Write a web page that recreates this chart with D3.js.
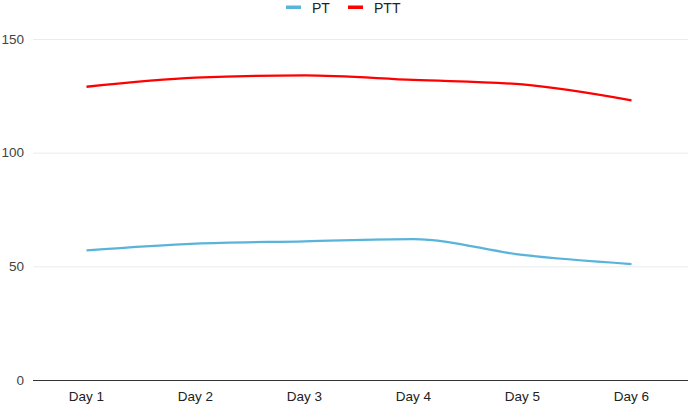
<!DOCTYPE html>
<html>
<head>
<meta charset="utf-8">
<script src="https://cdn.jsdelivr.net/npm/d3@7"></script>
<style>
  body { margin: 0; background: #fff; }
  text { font-family: "Liberation Sans", Arial, sans-serif; }
</style>
</head>
<body>
<div id="chart"></div>
<script>
// Data ------------------------------------------------------------------------
const days = ["Day 1", "Day 2", "Day 3", "Day 4", "Day 5", "Day 6"];
const ptValues = [57, 60, 61, 62, 55, 51];
const pttValues = [129, 133, 134, 132, 130, 123];
const yTicks = [0, 50, 100, 150];

const series = [
  { name: "PT", color: "#5ab4da", values: ptValues },
  { name: "PTT", color: "#ff0000", values: pttValues }
];

// Setup -----------------------------------------------------------------------
const width = 688;
const height = 406;
const margin = { top: 39, right: 2, bottom: 26, left: 32 };

const svg = d3.select("#chart")
  .append("svg")
  .attr("width", width)
  .attr("height", height);

const x = d3.scalePoint()
  .domain(days)
  .range([margin.left, width - margin.right])
  .padding(0.5);

const y = d3.scaleLinear()
  .domain([0, 150])
  .range([height - margin.bottom, margin.top]);

// Gridlines and y labels ------------------------------------------------------
svg.append("g")
  .selectAll("line")
  .data(yTicks.filter(d => d > 0))
  .enter()
  .append("line")
  .attr("x1", margin.left + 1)
  .attr("x2", width)
  .attr("y1", d => y(d) + 0.5)
  .attr("y2", d => y(d) + 0.5)
  .attr("stroke", "#ebebeb");

svg.append("g")
  .selectAll("text")
  .data(yTicks)
  .enter()
  .append("text")
  .attr("x", margin.left - 8)
  .attr("y", d => y(d))
  .attr("dy", "0.35em")
  .attr("text-anchor", "end")
  .attr("font-size", 13.5)
  .attr("fill", "#444")
  .text(d => d);

// Baseline and x labels -------------------------------------------------------
svg.append("line")
  .attr("x1", margin.left + 1)
  .attr("x2", width)
  .attr("y1", y(0) + 0.5)
  .attr("y2", y(0) + 0.5)
  .attr("stroke", "#333")
  .attr("stroke-width", 1.2);

svg.append("g")
  .selectAll("text")
  .data(days)
  .enter()
  .append("text")
  .attr("x", d => x(d))
  .attr("y", y(0) + 21)
  .attr("text-anchor", "middle")
  .attr("font-size", 13.5)
  .attr("fill", "#222")
  .text(d => d);

// Lines -----------------------------------------------------------------------
const line = d3.line()
  .x((d, i) => x(days[i]))
  .y(d => y(d))
  .curve(d3.curveMonotoneX);

svg.append("g")
  .selectAll("path")
  .data(series)
  .enter()
  .append("path")
  .attr("d", d => line(d.values))
  .attr("fill", "none")
  .attr("stroke", d => d.color)
  .attr("stroke-width", 2.3);

// Legend ----------------------------------------------------------------------
const legend = svg.append("g");
const legendX = [286, 348];

series.forEach((s, i) => {
  legend.append("rect")
    .attr("x", legendX[i])
    .attr("y", 5.5)
    .attr("width", 15)
    .attr("height", 3.5)
    .attr("fill", s.color);
  legend.append("text")
    .attr("x", legendX[i] + 26)
    .attr("y", 12.7)
    .attr("font-size", 14)
    .attr("fill", "#222")
    .text(s.name);
});
</script>
</body>
</html>
